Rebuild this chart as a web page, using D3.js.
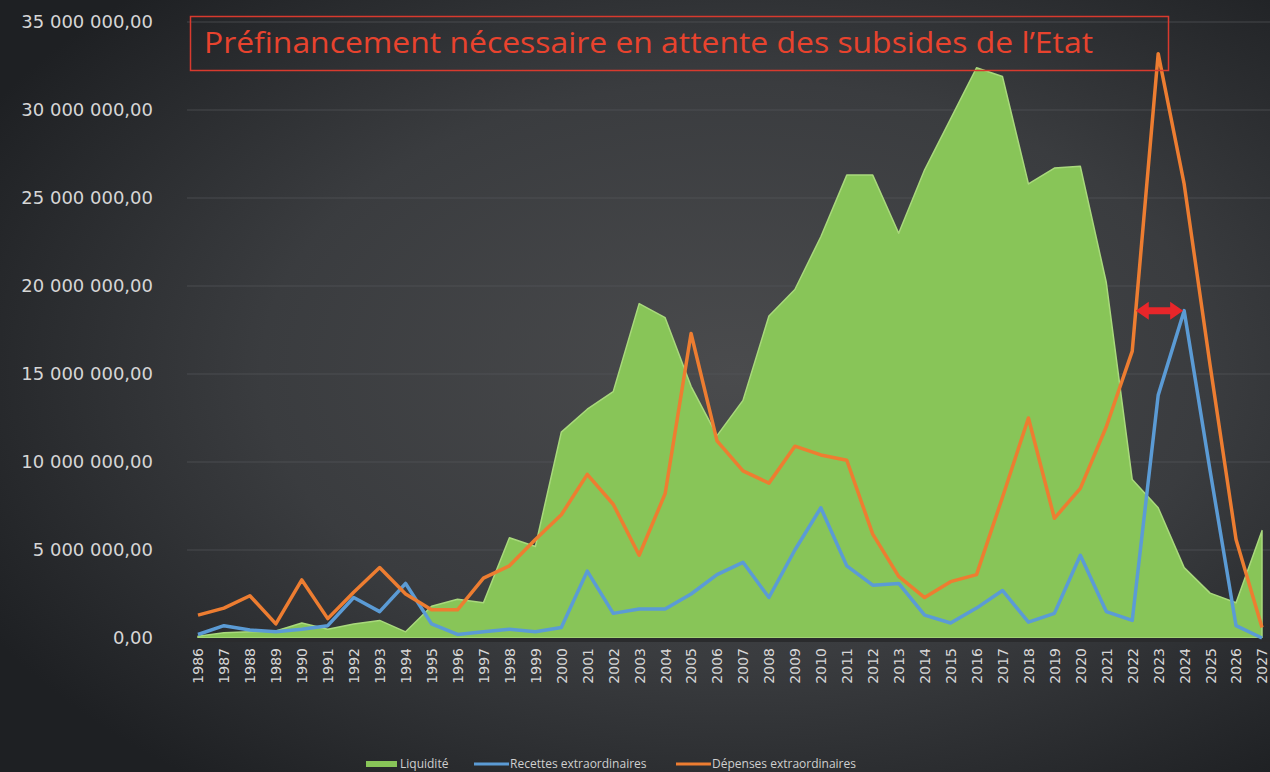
<!DOCTYPE html>
<html>
<head>
<meta charset="utf-8">
<title>Liquidité</title>
<script src="https://d3js.org/d3.v7.min.js"></script>
<style>
  body { margin: 0; background: #2b2d30; }
  svg { display: block; font-family: "DejaVu Sans", sans-serif; }
</style>
</head>
<body>
<div id="chart"></div>
<script>
var years = d3.range(1986, 2028);

// values in millions of euros
var liquidite = [0.1, 0.3, 0.35, 0.4, 0.85, 0.5, 0.8, 1.0, 0.35, 1.8,
                 2.2, 2.0, 5.7, 5.2, 11.7, 13.0, 14.0, 19.0, 18.2, 14.3,
                 11.5, 13.5, 18.3, 19.8, 22.8, 26.3, 26.3, 23.0, 26.6, 29.5,
                 32.4, 31.9, 25.8, 26.7, 26.8, 20.2, 9.0, 7.4, 4.0, 2.55,
                 2.0, 6.1];
var recettes = [0.2, 0.7, 0.45, 0.35, 0.5, 0.7, 2.3, 1.5, 3.1, 0.8,
                0.2, 0.35, 0.5, 0.35, 0.6, 3.8, 1.4, 1.65, 1.65, 2.5,
                3.6, 4.3, 2.3, 5.0, 7.4, 4.1, 3.0, 3.1, 1.3, 0.85,
                1.7, 2.7, 0.9, 1.4, 4.7, 1.5, 1.0, 13.8, 18.6, 9.5,
                0.7, 0.0];
var depenses = [1.3, 1.7, 2.4, 0.8, 3.3, 1.1, 2.6, 4.0, 2.5, 1.6,
                1.6, 3.4, 4.1, 5.6, 7.0, 9.3, 7.6, 4.7, 8.2, 17.3,
                11.2, 9.5, 8.8, 10.9, 10.4, 10.1, 5.9, 3.5, 2.3, 3.2,
                3.6, 8.0, 12.5, 6.8, 8.5, 12.0, 16.3, 33.2, 25.8, 15.5,
                5.6, 0.6];
var yTicks = [0, 5e6, 10e6, 15e6, 20e6, 25e6, 30e6, 35e6];
var seriesNames = ["Liquidité", "Recettes extraordinaires", "Dépenses extraordinaires"];
var title = "Préfinancement nécessaire en attente des subsides de l’Etat";

var width = 1270, height = 772;
var data = years.map(function(y, i) {
  return { year: y, liq: liquidite[i] * 1e6, rec: recettes[i] * 1e6, dep: depenses[i] * 1e6 };
});

var svg = d3.select("#chart").append("svg")
  .attr("width", width).attr("height", height);

var defs = svg.append("defs");
var bg = defs.append("radialGradient").attr("id", "bg")
  .attr("cx", "58%").attr("cy", "48%").attr("r", "68%");
bg.append("stop").attr("offset", "0%").attr("stop-color", "#4a4b4d");
bg.append("stop").attr("offset", "55%").attr("stop-color", "#3a3c3f");
bg.append("stop").attr("offset", "100%").attr("stop-color", "#1e2023");

svg.append("rect").attr("width", width).attr("height", height).attr("fill", "url(#bg)");

var x = d3.scalePoint().domain(years).range([198, 1262]);
var y = d3.scaleLinear().domain([0, 35e6]).range([638, 22]);

var fr = d3.formatLocale({ decimal: ",", thousands: " ", grouping: [3], currency: ["", ""] });
var fmt = fr.format(",.2f");

// grid
svg.append("g").selectAll("line")
  .data(yTicks.slice(1)).enter().append("line")
  .attr("x1", 187).attr("x2", width)
  .attr("y1", function(d) { return y(d); })
  .attr("y2", function(d) { return y(d); })
  .attr("stroke", "#55575a").attr("stroke-width", 1).attr("opacity", 0.7);

// y axis labels
var yAxis = d3.axisLeft(y).tickValues(yTicks).tickFormat(fmt).tickSize(0).tickPadding(0);
var ya = svg.append("g").attr("transform", "translate(153,0)").call(yAxis);
ya.select(".domain").remove();
ya.selectAll("text").attr("fill", "#d6d6d6").style("font-size", "18px")
  .style("font-family", "'DejaVu Sans', sans-serif");

// area
var area = d3.area()
  .x(function(d) { return x(d.year); })
  .y0(y(0))
  .y1(function(d) { return y(d.liq); });

svg.append("path").datum(data)
  .attr("d", area)
  .attr("fill", "#88c558")
  .attr("stroke", "#a9d97c").attr("stroke-width", 1.5).attr("stroke-linejoin", "round");

// baseline
svg.append("line").attr("x1", 187).attr("x2", width)
  .attr("y1", y(0) + 2).attr("y2", y(0) + 2)
  .attr("stroke", "#2a2b2d").attr("stroke-width", 4);

// x axis labels
var xAxis = d3.axisBottom(x).tickSize(0).tickPadding(0);
var xa = svg.append("g").attr("transform", "translate(0," + (y(0) + 10) + ")").call(xAxis);
xa.select(".domain").remove();
xa.selectAll("text")
  .attr("fill", "#d6d6d6").style("font-size", "14px")
  .style("font-family", "'DejaVu Sans', sans-serif")
  .attr("text-anchor", "end")
  .attr("transform", "rotate(-90)")
  .attr("x", 0).attr("y", 0).attr("dy", "0.35em");

// lines
var lineRec = d3.line().x(function(d) { return x(d.year); }).y(function(d) { return y(d.rec); });
var lineDep = d3.line().x(function(d) { return x(d.year); }).y(function(d) { return y(d.dep); });

svg.append("path").datum(data).attr("d", lineRec)
  .attr("fill", "none").attr("stroke", "#5b9bd5").attr("stroke-width", 3.5)
  .attr("stroke-linejoin", "round");
svg.append("path").datum(data).attr("d", lineDep)
  .attr("fill", "none").attr("stroke", "#ed7d31").attr("stroke-width", 3.5)
  .attr("stroke-linejoin", "round");

// red double arrow between the two lines at the recettes peak
var iPeak = recettes.indexOf(d3.max(recettes));
var vPeak = data[iPeak].rec;
var i0 = iPeak - 2;
var frac = (vPeak - data[i0].dep) / (data[i0 + 1].dep - data[i0].dep);
var ax0 = x(years[i0]) + frac * x.step();
var ax1 = x(years[iPeak]) - 1;
var ay = y(vPeak);
var hw = 13, hh = 9, sw = 3.5;
svg.append("path")
  .attr("d", "M" + ax0 + "," + ay +
    "L" + (ax0 + hw) + "," + (ay - hh) +
    "L" + (ax0 + hw) + "," + (ay - sw) +
    "L" + (ax1 - hw) + "," + (ay - sw) +
    "L" + (ax1 - hw) + "," + (ay - hh) +
    "L" + ax1 + "," + ay +
    "L" + (ax1 - hw) + "," + (ay + hh) +
    "L" + (ax1 - hw) + "," + (ay + sw) +
    "L" + (ax0 + hw) + "," + (ay + sw) +
    "L" + (ax0 + hw) + "," + (ay + hh) + "Z")
  .attr("fill", "#e8262a");

// title box
svg.append("rect").attr("x", 190.5).attr("y", 16.5).attr("width", 978).attr("height", 54)
  .attr("fill", "none").attr("stroke", "#d83a2e").attr("stroke-width", 1.5);
svg.append("text").attr("x", 204).attr("y", 53)
  .attr("fill", "#e8432e").style("font-size", "29px")
  .style("font-family", "'Open Sans', sans-serif")
  .attr("textLength", 889).attr("lengthAdjust", "spacingAndGlyphs")
  .text(title);

// legend
var legend = [
  { name: seriesNames[0], color: "#88c558", type: "rect", x: 366 },
  { name: seriesNames[1], color: "#5b9bd5", type: "line", x: 474 },
  { name: seriesNames[2], color: "#ed7d31", type: "line", x: 676 }
];
var lg = svg.append("g").selectAll("g").data(legend).enter().append("g")
  .attr("transform", function(d) { return "translate(" + d.x + ",764)"; });
lg.append("rect")
  .attr("x", 0).attr("y", function(d) { return d.type === "rect" ? -3 : -1.5; })
  .attr("width", function(d) { return d.type === "rect" ? 31 : 35; })
  .attr("height", function(d) { return d.type === "rect" ? 6 : 3; })
  .attr("fill", function(d) { return d.color; });
lg.append("text").attr("x", function(d) { return d.type === "rect" ? 34 : 36; }).attr("y", 4)
  .attr("fill", "#cfcfcf").style("font-size", "12px")
  .style("font-family", "'Open Sans', sans-serif")
  .text(function(d) { return d.name; });
</script>
</body>
</html>
